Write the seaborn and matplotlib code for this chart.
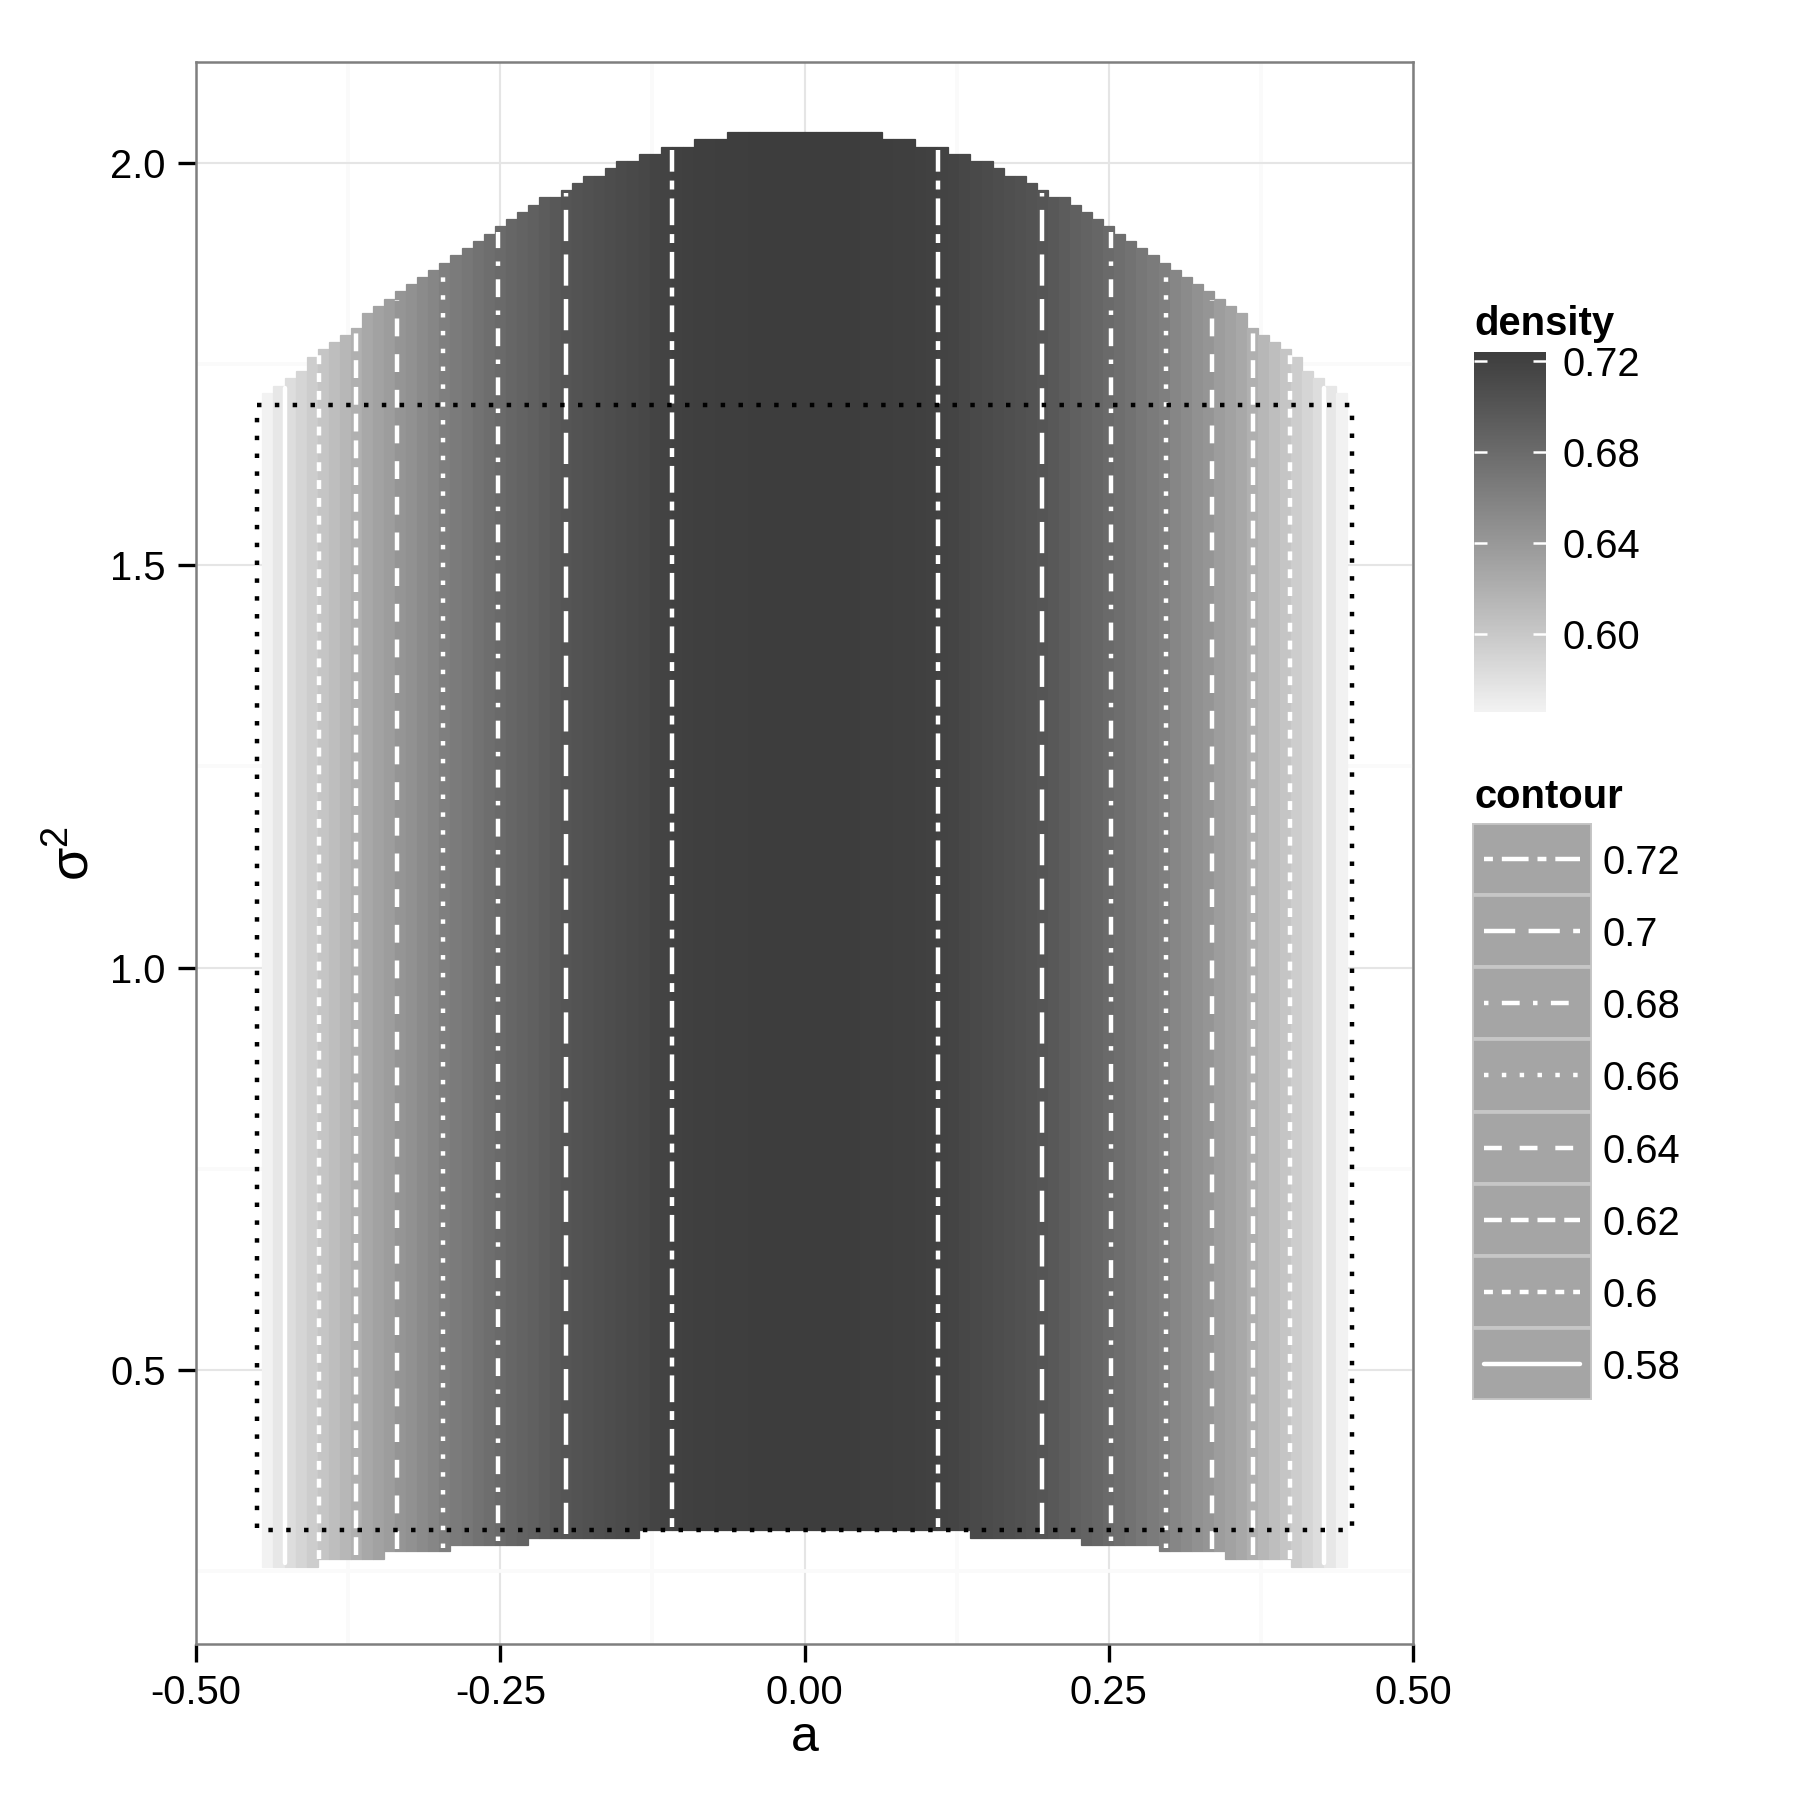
import numpy as np
import pandas as pd
import matplotlib
matplotlib.use("Agg")
import matplotlib.pyplot as plt
import seaborn as sns
from matplotlib.colors import Normalize, ListedColormap
from matplotlib.cm import ScalarMappable
from matplotlib.patches import Rectangle

# --------------------------------------------------
# Data
# --------------------------------------------------

# tile grid in a (100 points from -0.45 to 0.45, outer two are empty)
a_centers = np.linspace(-0.45, 0.45, 100)[1:99]
tile_width = 0.9 / 99

tile_top = [
    1.714, 1.723, 1.733, 1.742, 1.759, 1.769, 1.778, 1.787, 1.795, 1.814,
    1.823, 1.831, 1.841, 1.850, 1.859, 1.867, 1.876, 1.886, 1.895, 1.903,
    1.912, 1.922, 1.931, 1.939, 1.948, 1.958, 1.958, 1.967, 1.976, 1.984,
    1.984, 1.994, 2.003, 2.003, 2.012, 2.012, 2.020, 2.020, 2.020, 2.030,
    2.030, 2.030, 2.039, 2.039, 2.039, 2.039, 2.039, 2.039, 2.039,
    2.039, 2.039, 2.039, 2.039, 2.039, 2.039, 2.039, 2.030, 2.030, 2.030,
    2.020, 2.020, 2.020, 2.012, 2.012, 2.003, 2.003, 1.994, 1.984, 1.984,
    1.976, 1.967, 1.958, 1.958, 1.948, 1.939, 1.931, 1.922, 1.912, 1.903,
    1.895, 1.886, 1.876, 1.867, 1.859, 1.850, 1.841, 1.831, 1.823, 1.814,
    1.795, 1.787, 1.778, 1.769, 1.759, 1.742, 1.733, 1.723, 1.714,
]

tile_bottom = [
    0.255, 0.255, 0.255, 0.255, 0.255, 0.265, 0.265, 0.265, 0.265, 0.265,
    0.265, 0.274, 0.274, 0.274, 0.274, 0.274, 0.274, 0.282, 0.282, 0.282,
    0.282, 0.282, 0.282, 0.282, 0.291, 0.291, 0.291, 0.291, 0.291, 0.291,
    0.291, 0.291, 0.291, 0.291, 0.300, 0.300, 0.300, 0.300, 0.300, 0.300,
    0.300, 0.300, 0.300, 0.300, 0.300, 0.300, 0.300, 0.300, 0.300,
    0.300, 0.300, 0.300, 0.300, 0.300, 0.300, 0.300, 0.300, 0.300, 0.300,
    0.300, 0.300, 0.300, 0.300, 0.300, 0.291, 0.291, 0.291, 0.291, 0.291,
    0.291, 0.291, 0.291, 0.291, 0.291, 0.282, 0.282, 0.282, 0.282, 0.282,
    0.282, 0.282, 0.274, 0.274, 0.274, 0.274, 0.274, 0.274, 0.265, 0.265,
    0.265, 0.265, 0.265, 0.265, 0.255, 0.255, 0.255, 0.255, 0.255,
]

density = [
    0.566, 0.575, 0.583, 0.590, 0.596, 0.602, 0.608, 0.614, 0.620, 0.626,
    0.631, 0.636, 0.642, 0.646, 0.651, 0.656, 0.661, 0.665, 0.669, 0.673,
    0.677, 0.681, 0.684, 0.687, 0.690, 0.694, 0.697, 0.700, 0.702, 0.704,
    0.706, 0.708, 0.710, 0.712, 0.714, 0.716, 0.718, 0.7195, 0.7205, 0.7212,
    0.7218, 0.7223, 0.7227, 0.7230, 0.7233, 0.7235, 0.7237, 0.7238, 0.7239,
    0.7239, 0.7238, 0.7237, 0.7235, 0.7233, 0.7230, 0.7227, 0.7223, 0.7218,
    0.7212, 0.7205, 0.7195, 0.718, 0.716, 0.714, 0.712, 0.710, 0.708, 0.706,
    0.704, 0.702, 0.700, 0.697, 0.694, 0.690, 0.687, 0.684, 0.681, 0.677,
    0.673, 0.669, 0.665, 0.661, 0.656, 0.651, 0.646, 0.642, 0.636, 0.631,
    0.626, 0.620, 0.614, 0.608, 0.602, 0.596, 0.590, 0.583, 0.575, 0.566,
]

# contour lines (vertical segments on both sides)
contour_levels = ["0.72", "0.7", "0.68", "0.66", "0.64", "0.62", "0.6", "0.58"]
contour_a_left = [-0.1092, -0.1956, -0.2522, -0.297, -0.335, -0.3686, -0.399, -0.427]
contour_a_right = [0.1093, 0.1955, 0.2520, 0.297, 0.335, 0.3686, 0.399, 0.4268]
contour_ymin = [0.304, 0.296, 0.287, 0.278, 0.277, 0.269, 0.264, 0.260]
contour_ymax = [2.016, 1.963, 1.915, 1.865, 1.830, 1.792, 1.765, 1.720]

# ggplot linetype palette, in line-width units
dash_map = {
    "0.72": (2, 2, 6, 2),
    "0.7": (7, 3),
    "0.68": (1, 3, 4, 3),
    "0.66": (1, 3),
    "0.64": (4, 4),
    "0.62": (4, 2),
    "0.6": (2, 2),
    "0.58": "",
}

# dotted box
box_a = [-0.45, 0.45, 0.45, -0.45, -0.45]
box_s2 = [1.7, 1.7, 0.3, 0.3, 1.7]

density_ticks = [0.60, 0.64, 0.68, 0.72]


# --------------------------------------------------
# Grey gradient (interpolated in L*, like ggplot)
# --------------------------------------------------

def srgb_to_L(v):
    lin = v / 12.92 if v <= 0.04045 else ((v + 0.055) / 1.055) ** 2.4
    f = lin ** (1 / 3) if lin > 0.008856 else 7.787 * lin + 16 / 116
    return 116 * f - 16


def L_to_srgb(L):
    fy = (L + 16) / 116
    lin = fy ** 3 if fy ** 3 > 0.008856 else (fy - 16 / 116) / 7.787
    return 1.055 * lin ** (1 / 2.4) - 0.055 if lin > 0.0031308 else 12.92 * lin


L_lo = srgb_to_L(0xF2 / 255)
L_hi = srgb_to_L(0x3D / 255)
greys = [L_to_srgb(L) for L in np.linspace(L_lo, L_hi, 256)]
grey_cmap = ListedColormap([(g, g, g) for g in greys])
norm = Normalize(vmin=min(density), vmax=max(density))


# --------------------------------------------------
# Figure
# --------------------------------------------------

sns.set_theme(style="white")
plt.rcParams["font.family"] = ["Liberation Sans", "DejaVu Sans"]
plt.rcParams["text.color"] = "black"

fig = plt.figure(figsize=(6, 6), dpi=300)
ax = fig.add_axes([0.10889, 0.08667, 0.67611, 0.87889])

tile_df = pd.DataFrame({
    "a": a_centers,
    "top": tile_top,
    "bottom": tile_bottom,
    "density": density,
})
colors = grey_cmap(norm(tile_df["density"].values))

ax.bar(
    tile_df["a"],
    tile_df["top"] - tile_df["bottom"],
    bottom=tile_df["bottom"],
    width=tile_width,
    color=colors,
    edgecolor=colors,
    linewidth=0.3,
    zorder=2
)

rows = []
for lev, al, ar, y0, y1 in zip(contour_levels, contour_a_left, contour_a_right,
                               contour_ymin, contour_ymax):
    rows.append({"a": al, "s2": y0, "level": lev, "seg": lev + "L"})
    rows.append({"a": al, "s2": y1, "level": lev, "seg": lev + "L"})
    rows.append({"a": ar, "s2": y0, "level": lev, "seg": lev + "R"})
    rows.append({"a": ar, "s2": y1, "level": lev, "seg": lev + "R"})
contour_df = pd.DataFrame(rows)

sns.lineplot(
    data=contour_df,
    x="a",
    y="s2",
    style="level",
    units="seg",
    estimator=None,
    sort=False,
    dashes=dash_map,
    color="white",
    linewidth=1.07,
    legend=False,
    ax=ax,
    zorder=3
)

ax.plot(box_a, box_s2, color="black", linewidth=1.07,
        linestyle=(0, (1, 3)), zorder=4)

# axes styling like theme_bw
ax.set_xlim(-0.5, 0.5)
ax.set_ylim(0.1588, 2.126)
ax.set_xticks([-0.5, -0.25, 0, 0.25, 0.5])
ax.set_xticklabels(["-0.50", "-0.25", "0.00", "0.25", "0.50"])
ax.set_yticks([0.5, 1.0, 1.5, 2.0])
ax.set_yticklabels(["0.5", "1.0", "1.5", "2.0"])
ax.set_xticks([-0.375, -0.125, 0.125, 0.375], minor=True)
ax.set_yticks([0.25, 0.75, 1.25, 1.75], minor=True)
ax.set_axisbelow(True)
ax.grid(which="major", color="#E5E5E5", linewidth=0.5)
ax.grid(which="minor", color="#FAFAFA", linewidth=0.9)
ax.tick_params(which="major", direction="out", length=4.3, width=0.8,
               color="black", labelsize=9.6, labelcolor="black", pad=3,
               bottom=True, left=True)
ax.tick_params(which="minor", length=0)
for sp in ax.spines.values():
    sp.set_color("#7F7F7F")
    sp.set_linewidth(0.6)
    sp.set_zorder(5)

ax.set_xlabel("a", fontsize=12, color="black")
ax.xaxis.label.set_va("baseline")
ax.xaxis.set_label_coords(0.5, -0.0676)
ax.set_ylabel(r"$\mathregular{\sigma^2}$", fontsize=13, color="black")
ax.yaxis.set_label_coords(-0.08, 0.5)

# --------------------------------------------------
# density colourbar
# --------------------------------------------------

cax = fig.add_axes([0.81889, 0.60461, 0.03983, 0.2])
sm = ScalarMappable(norm=norm, cmap=grey_cmap)
cb = fig.colorbar(sm, cax=cax, ticks=density_ticks)
cb.outline.set_visible(False)
cb.ax.set_axisbelow(False)
cb.ax.set_yticklabels(["%.2f" % t for t in density_ticks])
cb.ax.minorticks_off()
cb.ax.tick_params(axis="y", direction="in", left=True, right=True,
                  labelleft=False, labelright=True, color="white",
                  labelcolor="black", length=3.2, width=0.6, pad=4,
                  labelsize=9.6)
fig.text(1474 / 1800, 1 - 335 / 1800, "density", fontsize=9.6,
         fontweight="bold", va="baseline", ha="left", color="black")

# --------------------------------------------------
# contour legend
# --------------------------------------------------

lax = fig.add_axes([0.81778, 0.2222, 0.0667, 0.3206])
lax.set_xlim(0, 1)
lax.set_ylim(0, len(contour_levels))
lax.axis("off")
for i, lev in enumerate(contour_levels):
    y0 = len(contour_levels) - 1 - i
    lax.add_patch(Rectangle((0, y0), 1, 1, facecolor="#A5A5A5",
                            edgecolor="#C6C6C6", linewidth=0.9))
    ln, = lax.plot([0.1, 0.9], [y0 + 0.5, y0 + 0.5], color="white",
                   linewidth=1.07)
    if dash_map[lev] != "":
        ln.set_dashes(dash_map[lev])
    lax.text(1.083, y0 + 0.5, lev, fontsize=9.6, va="center_baseline",
             ha="left", clip_on=False, color="black")
fig.text(1474 / 1800, 1 - 808 / 1800, "contour", fontsize=9.6,
         fontweight="bold", va="baseline", ha="left", color="black")

fig.savefig("out.png", dpi=300, facecolor="white")
